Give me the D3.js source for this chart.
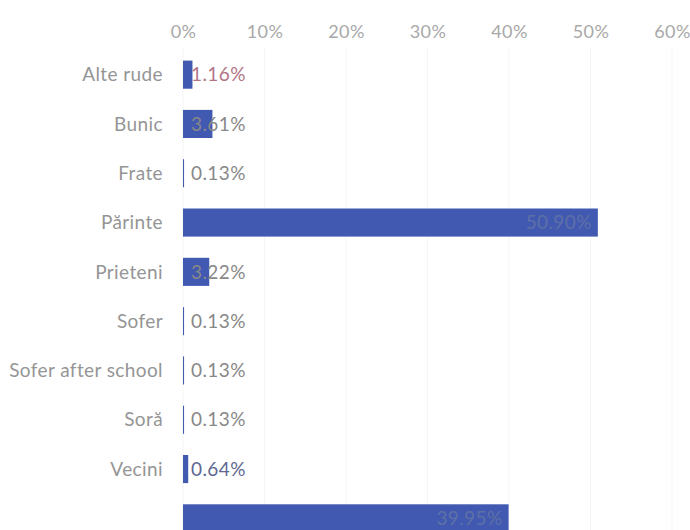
<!DOCTYPE html>
<html>
<head>
<meta charset="utf-8">
<script src="https://cdn.jsdelivr.net/npm/d3@7"></script>
<style>
  html, body { margin: 0; padding: 0; background: #fff; }
  svg { display: block; }
  text { font-family: Lato, "Open Sans", sans-serif; letter-spacing: 0.4px; }
</style>
</head>
<body>
<svg id="chart" width="690" height="530"></svg>
<script>
// Who accompanies the child – share of answers
const categories = ["Alte rude", "Bunic", "Frate", "Părinte", "Prieteni", "Sofer",
                    "Sofer after school", "Soră", "Vecini", ""];
const values = [1.16, 3.61, 0.13, 50.90, 3.22, 0.13, 0.13, 0.13, 0.64, 39.95];
const tickValues = [0, 10, 20, 30, 40, 50, 60];

const svg = d3.select("#chart");
const W = 690, H = 530;

const x = d3.scaleLinear().domain([0, 60]).range([183, 672]);
const y = d3.scaleBand().domain(d3.range(categories.length))
  .range([50, 543]).paddingInner(0.43).paddingOuter(0.215);

// vertical gridlines
svg.append("g").selectAll("line").data(tickValues).join("line")
  .attr("x1", d => x(d)).attr("x2", d => x(d))
  .attr("y1", 48).attr("y2", H)
  .attr("stroke", "#f5f5f5").attr("stroke-width", 1);

// top axis
const axis = d3.axisTop(x).tickValues(tickValues).tickFormat(d => d + "%").tickSize(0);
const gAxis = svg.append("g").attr("transform", "translate(0,41)").call(axis);
gAxis.select(".domain").remove();
gAxis.selectAll("text")
  .attr("fill", "#a8a8a8").attr("font-size", 18).attr("dy", "0")
  .style("font-family", "Lato, sans-serif");

// category labels
svg.append("g").selectAll("text").data(categories).join("text")
  .attr("x", 163).attr("y", (d, i) => y(i) + y.bandwidth() / 2)
  .attr("dy", "0.35em").attr("text-anchor", "end")
  .attr("fill", "#959595").attr("font-size", 19)
  .text(d => d);

// bars
svg.append("g").selectAll("rect").data(values).join("rect")
  .attr("x", x(0)).attr("y", (d, i) => y(i))
  .attr("width", d => x(d) - x(0)).attr("height", y.bandwidth())
  .attr("fill", "#4159b1");

// value labels: inside the bar end when it fits, otherwise just after the base
const labelColors = values.map((v, i) => i === 0 ? "#b27486" : i === 8 ? "#5e6792" : "#888888");
const vl = svg.append("g").selectAll("text").data(values).join("text")
  .attr("y", (d, i) => y(i) + y.bandwidth() / 2)
  .attr("dy", "0.35em")
  .attr("font-size", 19)
  .text(d => d.toFixed(2) + "%");
vl.each(function (d, i) {
  const t = d3.select(this);
  const w = this.getComputedTextLength();
  const inside = x(d) - x(0) > w + 20;
  if (inside) {
    t.attr("x", x(d) - 6).attr("text-anchor", "end").attr("fill", "#5d70a6");
  } else {
    t.attr("x", x(0) + 8).attr("text-anchor", "start").attr("fill", labelColors[i]);
  }
});
</script>
</body>
</html>
